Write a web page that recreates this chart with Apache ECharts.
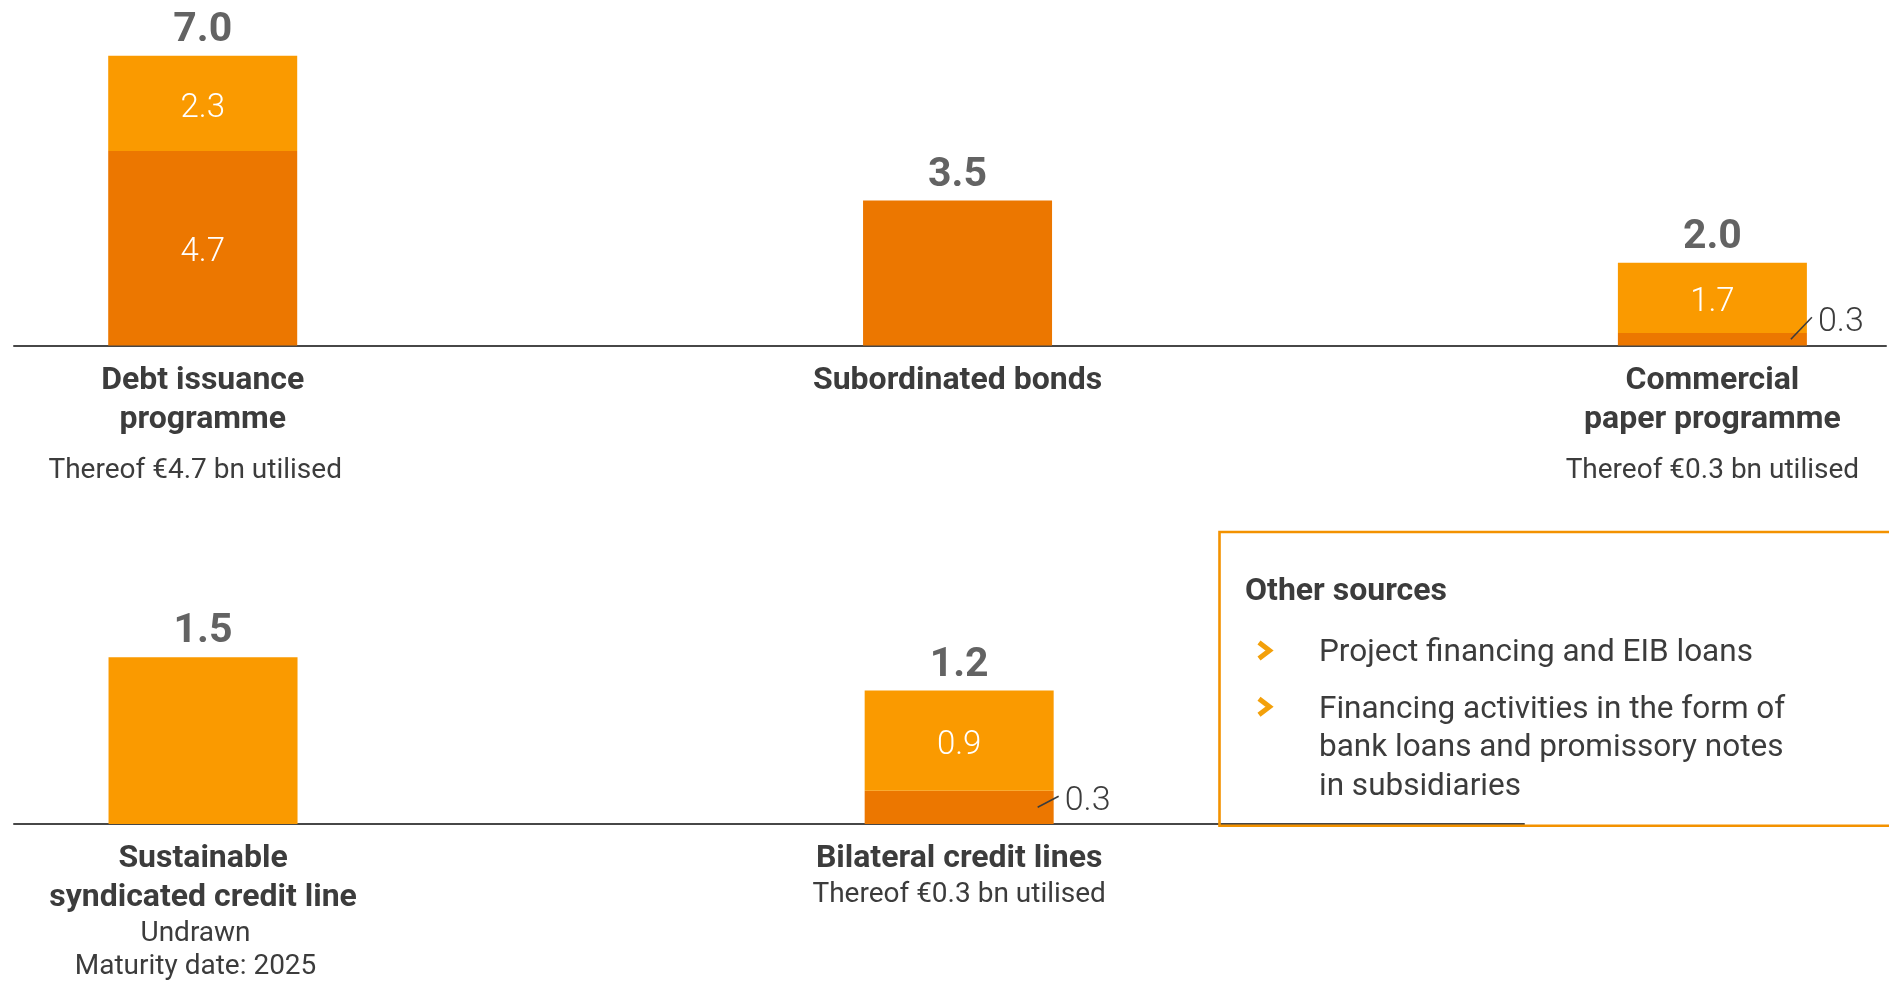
<!DOCTYPE html>
<html>
<head>
<meta charset="utf-8">
<title>Financing instruments</title>
<script src="https://cdn.jsdelivr.net/npm/echarts@6/dist/echarts.min.js"></script>
<style>
  html, body { margin: 0; padding: 0; background: #ffffff; }
  #chart { width: 1889px; height: 981px; }
</style>
</head>
<body>
<div id="chart"></div>
<script>
// Financing instruments in € bn: utilised (dark) and available (light) parts

// Upper row
const topNames = [['Debt issuance', 'programme'], ['Subordinated bonds'], ['Commercial', 'paper programme']];
const topNotes = [['Thereof €4.7 bn utilised'], [], ['Thereof €0.3 bn utilised']];
const topUtilised = [4.7, 3.5, 0.3];
const topAvailable = [2.3, 0, 1.7];
const topTotals = [7.0, 3.5, 2.0];

// Lower row
const bottomNames = [['Sustainable', 'syndicated credit line'], ['Bilateral credit lines']];
const bottomNotes = [['Undrawn', 'Maturity date: 2025'], ['Thereof €0.3 bn utilised']];
const bottomUtilised = [0, 0.3];
const bottomAvailable = [1.5, 0.9];
const bottomTotals = [1.5, 1.2];

// Side panel
const otherTitle = 'Other sources';
const otherItems = [
  'Project financing and EIB loans',
  'Financing activities in the form of\nbank loans and promissory notes\nin subsidiaries'
];

const FONT = 'Roboto, "Noto Sans", "DejaVu Sans", sans-serif';
const TEXT = '#3c3c3c';
const DARK = '#ec7700';
const LIGHT = '#fa9a00';
const BORDER = '#f39200';
const CHEVRON = '#f3a00a';
const BAR_W = 189;

// Segment items: inner value shown when both parts exist and the part is tall enough
function segmentData(values, others) {
  return values.map((v, i) => ({
    value: [v, i],
    label: { show: v >= 0.5 && others[i] > 0 }
  }));
}

// Small utilised parts get a label outside the bar with a short leader line
function calloutData(values) {
  return values.map((v, i) => [v, i]).filter(d => d[0] > 0 && d[0] < 0.5);
}

function pairs(values) {
  return values.map((v, i) => [v, i]);
}

// Category name in bold, notes below in regular weight; notes of the first
// column sit slightly left of the bar centre
function axisLabeller(names, notes, gapFirstNote) {
  return function (val) {
    const i = Math.round(val);
    if (Math.abs(val - i) > 1e-6 || i < 0 || i >= names.length) return '';
    const lines = names[i].map(t => '{b|' + t + '}');
    const suffix = i === 0 ? 'L' : '';
    notes[i].forEach((t, k) => {
      const style = (k === 0 && gapFirstNote ? 'sg' : 's') + suffix;
      lines.push('{' + style + '|' + t + '}');
    });
    return lines.join('\n');
  };
}

const noteBase = { fontFamily: FONT, fontSize: 28, color: TEXT };
const labelRich = {
  b: { fontFamily: FONT, fontSize: 32, fontWeight: 'bold', color: TEXT, lineHeight: 39 },
  s: Object.assign({ lineHeight: 33 }, noteBase),
  sg: Object.assign({ lineHeight: 64 }, noteBase),
  sL: Object.assign({ lineHeight: 33, padding: [0, 15, 0, 0] }, noteBase),
  sgL: Object.assign({ lineHeight: 64, padding: [0, 15, 0, 0] }, noteBase)
};

function calloutRenderer(rise) {
  return function (params, api) {
    const v = api.value(0);
    const x = api.value(1);
    const c = api.coord([x, v / 2]);
    const edge = c[0] + BAR_W / 2;
    const x1 = edge - 16, y1 = c[1];
    const x2 = edge + 5, y2 = c[1] - rise;
    return {
      type: 'group',
      children: [
        { type: 'line', shape: { x1: x1, y1: y1, x2: x2, y2: y2 },
          style: { stroke: TEXT, lineWidth: 1.6 } },
        { type: 'text', x: x2 + 6, y: y2 + 5.5,
          style: { text: v.toFixed(1), fill: TEXT, fontFamily: FONT, fontSize: 34,
                   fontWeight: 300, align: 'left', verticalAlign: 'middle' } }
      ]
    };
  };
}

function xAxisFor(gridIndex, max, names, notes, gapFirstNote) {
  return {
    gridIndex: gridIndex,
    type: 'value',
    min: -0.25,
    max: max,
    interval: 0.25,
    axisLine: { show: true, onZero: false, lineStyle: { color: '#474747', width: 2 } },
    axisTick: { show: false },
    splitLine: { show: false },
    axisLabel: {
      margin: 15.5,
      formatter: axisLabeller(names, notes, gapFirstNote),
      rich: labelRich
    }
  };
}

const innerLabel = {
  position: 'inside',
  offset: [0, 5],
  color: '#ffffff',
  fontFamily: FONT,
  fontSize: 33,
  fontWeight: 300,
  formatter: p => p.value[0].toFixed(1)
};

const totalLabel = {
  show: true,
  position: 'top',
  distance: 4,
  color: TEXT,
  fontFamily: FONT,
  fontSize: 41,
  fontWeight: 'bold',
  formatter: p => p.value[0].toFixed(1)
};

function rowSeries(idx, utilised, available, totals, rise) {
  return [
    { type: 'bar', name: 'Utilised', xAxisIndex: idx, yAxisIndex: idx, stack: 'row' + idx,
      barWidth: BAR_W, encode: { x: 1, y: 0 }, itemStyle: { color: DARK },
      label: innerLabel, data: segmentData(utilised, available) },
    { type: 'bar', name: 'Available', xAxisIndex: idx, yAxisIndex: idx, stack: 'row' + idx,
      barWidth: BAR_W, encode: { x: 1, y: 0 }, itemStyle: { color: LIGHT },
      label: innerLabel, data: segmentData(available, utilised) },
    { type: 'scatter', name: 'Total', xAxisIndex: idx, yAxisIndex: idx, silent: true,
      encode: { x: 1, y: 0 }, symbolSize: 1, itemStyle: { color: 'rgba(0,0,0,0)' },
      label: totalLabel, data: pairs(totals) },
    { type: 'custom', name: 'Utilised callout', xAxisIndex: idx, yAxisIndex: idx, silent: true,
      z: 10, encode: { x: 1, y: 0 }, renderItem: calloutRenderer(rise), data: calloutData(utilised) }
  ];
}

// Side panel: frame, heading, chevron bullets, items
const ITEM_Y = [650.5, 706.7];
const ITEM_LH = 38.5;
const TEXT_SHIFT = 3;
const panel = [
  { type: 'rect', z: 100, shape: { x: 1219.5, y: 532, width: 720, height: 293.7 },
    style: { fill: 'none', stroke: BORDER, lineWidth: 2.6 } },
  { type: 'text', z: 100, x: 1245, y: 589 + TEXT_SHIFT,
    style: { text: otherTitle, fill: TEXT, fontFamily: FONT, fontSize: 32, fontWeight: 'bold',
             align: 'left', verticalAlign: 'middle' } }
];
otherItems.forEach((t, k) => {
  const cy = ITEM_Y[k];
  panel.push({ type: 'polyline', z: 100,
    shape: { points: [[1259, cy - 8], [1269.5, cy], [1259, cy + 8]] },
    style: { stroke: CHEVRON, lineWidth: 5, fill: 'none', lineJoin: 'miter', lineCap: 'butt' } });
  panel.push({ type: 'text', z: 100, x: 1319, y: cy - ITEM_LH / 2 + TEXT_SHIFT,
    style: { text: t, fill: TEXT, fontFamily: FONT, fontSize: 31.5, lineHeight: ITEM_LH,
             align: 'left', verticalAlign: 'top' } });
});

const chart = echarts.init(document.getElementById('chart'), null, { renderer: 'canvas' });
chart.setOption({
  animation: false,
  backgroundColor: '#ffffff',
  textStyle: { fontFamily: FONT },
  grid: [
    { left: 14, right: 0, top: 14.3, height: 331.2 },
    { left: 14, width: 1510, top: 601.5, height: 223 }
  ],
  xAxis: [
    xAxisFor(0, 2.23, topNames, topNotes, true),
    xAxisFor(1, 1.747, bottomNames, bottomNotes, false)
  ],
  yAxis: [
    { gridIndex: 0, type: 'value', min: 0, max: 8, show: false },
    { gridIndex: 1, type: 'value', min: 0, max: 2, show: false }
  ],
  series: [].concat(
    rowSeries(0, topUtilised, topAvailable, topTotals, 22),
    rowSeries(1, bottomUtilised, bottomAvailable, bottomTotals, 11)
  ),
  graphic: panel
});
</script>
</body>
</html>
